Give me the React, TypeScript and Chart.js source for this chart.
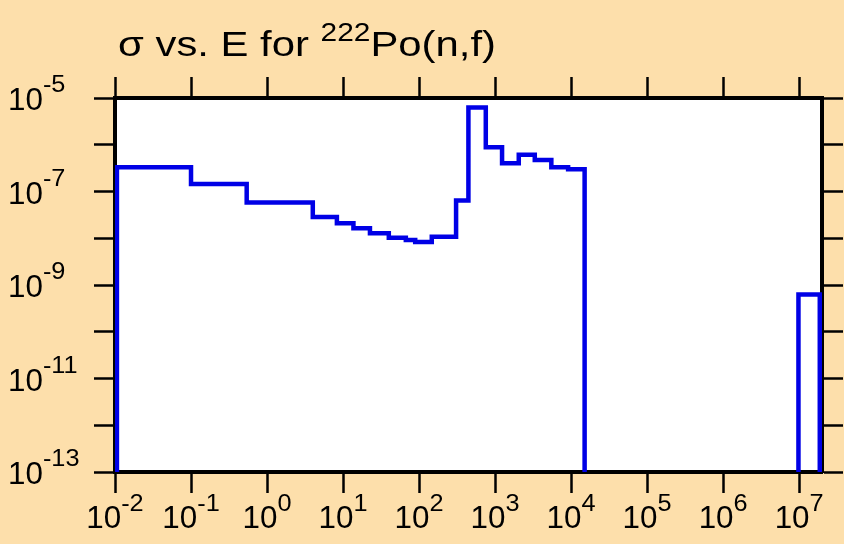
import React, { useEffect, useRef } from 'react';
import { Chart, registerables } from 'chart.js';

Chart.register(...registerables);

// ---- data ----
const ZERO_FLOOR = 1e-16; // zero cross-section, below the axis
const energyEdges = [
  0.0106, 0.0106, 0.1, 0.54, 4.0, 8.3, 13.7, 22.6, 40, 67, 89, 147, 307, 446,
  755, 1236, 2050, 3330, 5500, 9140, 15070, 9.8e6, 9.8e6, 1.87e7,
];
const crossSections = [
  ZERO_FLOOR, 3.3e-7, 1.45e-7, 5.8e-8, 2.85e-8, 2.1e-8, 1.63e-8, 1.28e-8, 1.03e-8,
  9.2e-9, 8.3e-9, 1.08e-8, 6.4e-8, 6.3e-6, 8.8e-7, 4.0e-7, 6.1e-7, 4.7e-7, 3.3e-7,
  3.0e-7, ZERO_FLOOR, ZERO_FLOOR, 6.3e-10, ZERO_FLOOR,
];
const xTickExponents = [-2, -1, 0, 1, 2, 3, 4, 5, 6, 7];
const yTickExponents = [-13, -12, -11, -10, -9, -8, -7, -6, -5];
const yLabelExponents = [-13, -11, -9, -7, -5];
const titleMain = 'σ vs. E for ';
const titleSup = '222';
const titleRest = 'Po(n,f)';

const X_MIN = 0.01;
const X_MAX = 2e7;
const Y_MIN = 1e-13;
const Y_MAX = 1e-5;

const BG = '#FDDFAB';
const FONT = '"Liberation Sans", Arial, Helvetica, sans-serif';

function drawText(ctx: CanvasRenderingContext2D, text: string, x: number, y: number, size: number, sx: number) {
  ctx.save();
  ctx.font = `${size}px ${FONT}`;
  ctx.translate(x, y);
  ctx.scale(sx, 1);
  ctx.fillText(text, 0, 0);
  const w = ctx.measureText(text).width * sx;
  ctx.restore();
  return w;
}

function measure(ctx: CanvasRenderingContext2D, text: string, size: number, sx: number) {
  ctx.save();
  ctx.font = `${size}px ${FONT}`;
  const w = ctx.measureText(text).width * sx;
  ctx.restore();
  return w;
}

const bgPlugin = {
  id: 'plotBg',
  beforeDraw(chart: any) {
    const { ctx, chartArea } = chart;
    ctx.save();
    ctx.fillStyle = '#FFFFFF';
    ctx.fillRect(chartArea.left, chartArea.top, chartArea.right - chartArea.left, chartArea.bottom - chartArea.top);
    ctx.restore();
  },
};

const textPlugin = {
  id: 'customText',
  afterDraw(chart: any) {
    const ctx = chart.ctx as CanvasRenderingContext2D;
    const xs = chart.scales.x;
    const ys = chart.scales.y;
    ctx.save();
    ctx.fillStyle = '#000';
    ctx.textBaseline = 'alphabetic';
    ctx.textAlign = 'left';
    const SX = 0.98;
    const SUPX = 1.1;
    const big = 32;
    const small = 23;
    // x labels
    xTickExponents.forEach((e) => {
      const px = xs.getPixelForValue(Math.pow(10, e));
      const sup = String(e);
      const w1 = measure(ctx, '10', big, SX);
      const w2 = measure(ctx, sup, small, SUPX);
      const left = px - (w1 + w2) / 2;
      drawText(ctx, '10', left, 528, big, SX);
      drawText(ctx, sup, left + w1, 511, small, SUPX);
    });
    // y labels
    yLabelExponents.forEach((e) => {
      const py = ys.getPixelForValue(Math.pow(10, e));
      const w1 = drawText(ctx, '10', 8, py + 12, big, SX);
      drawText(ctx, String(e), 8 + w1, py - 6, small, SUPX);
    });
    // title
    const tBig = 35;
    const tSmall = 25;
    const targetWidth = 378;
    const raw =
      measure(ctx, titleMain, tBig, 1) + measure(ctx, titleSup, tSmall, 1) + measure(ctx, titleRest, tBig, 1);
    const tsx = targetWidth / raw;
    let x = 118;
    x += drawText(ctx, titleMain, x, 56, tBig, tsx);
    x += drawText(ctx, titleSup, x, 41, tSmall, tsx);
    drawText(ctx, titleRest, x, 56, tBig, tsx);
    ctx.restore();
  },
};

function makeAxis(type: 'x' | 'y', position: string, values: number[], min: number, max: number, size: number) {
  return {
    type: 'logarithmic',
    position,
    axis: type,
    min,
    max,
    z: 1,
    afterBuildTicks: (s: any) => {
      s.ticks = values.map((e) => ({ value: Math.pow(10, e) }));
    },
    afterFit: (s: any) => {
      if (type === 'x') s.height = size;
      else s.width = size;
    },
    grid: {
      display: true,
      drawOnChartArea: false,
      drawTicks: true,
      tickLength: 21,
      tickWidth: 2.5,
      tickColor: '#000',
      color: '#000',
    },
    border: { display: true, color: '#000', width: 4 },
    ticks: { display: false },
  };
}

export default function App() {
  const canvasRef = useRef<HTMLCanvasElement | null>(null);

  useEffect(() => {
    document.body.style.margin = '0';
    document.body.style.background = BG;
    const canvas = canvasRef.current;
    if (!canvas) return;
    const points = energyEdges.map((x, i) => ({ x, y: crossSections[i] }));
    const chart = new Chart(canvas, {
      type: 'line',
      data: {
        datasets: [
          {
            data: points,
            borderColor: '#0000E6',
            borderWidth: 4.5,
            pointRadius: 0,
            fill: false,
            stepped: 'before',
            tension: 0,
          } as any,
        ],
      },
      options: {
        responsive: false,
        animation: false,
        parsing: false as any,
        layout: { padding: 0 },
        plugins: {
          legend: { display: false },
          tooltip: { enabled: false },
          title: { display: false },
        },
        scales: {
          x: makeAxis('x', 'bottom', xTickExponents, X_MIN, X_MAX, 72),
          x2: makeAxis('x', 'top', xTickExponents, X_MIN, X_MAX, 98),
          y: makeAxis('y', 'left', yTickExponents, Y_MIN, Y_MAX, 115),
          y2: makeAxis('y', 'right', yTickExponents, Y_MIN, Y_MAX, 22),
        } as any,
      },
      plugins: [bgPlugin, textPlugin],
    });
    return () => chart.destroy();
  }, []);

  return (
    <div style={{ width: 844, height: 544, background: BG }}>
      <canvas ref={canvasRef} width={844} height={544} style={{ display: 'block', width: 844, height: 544 }} />
    </div>
  );
}
